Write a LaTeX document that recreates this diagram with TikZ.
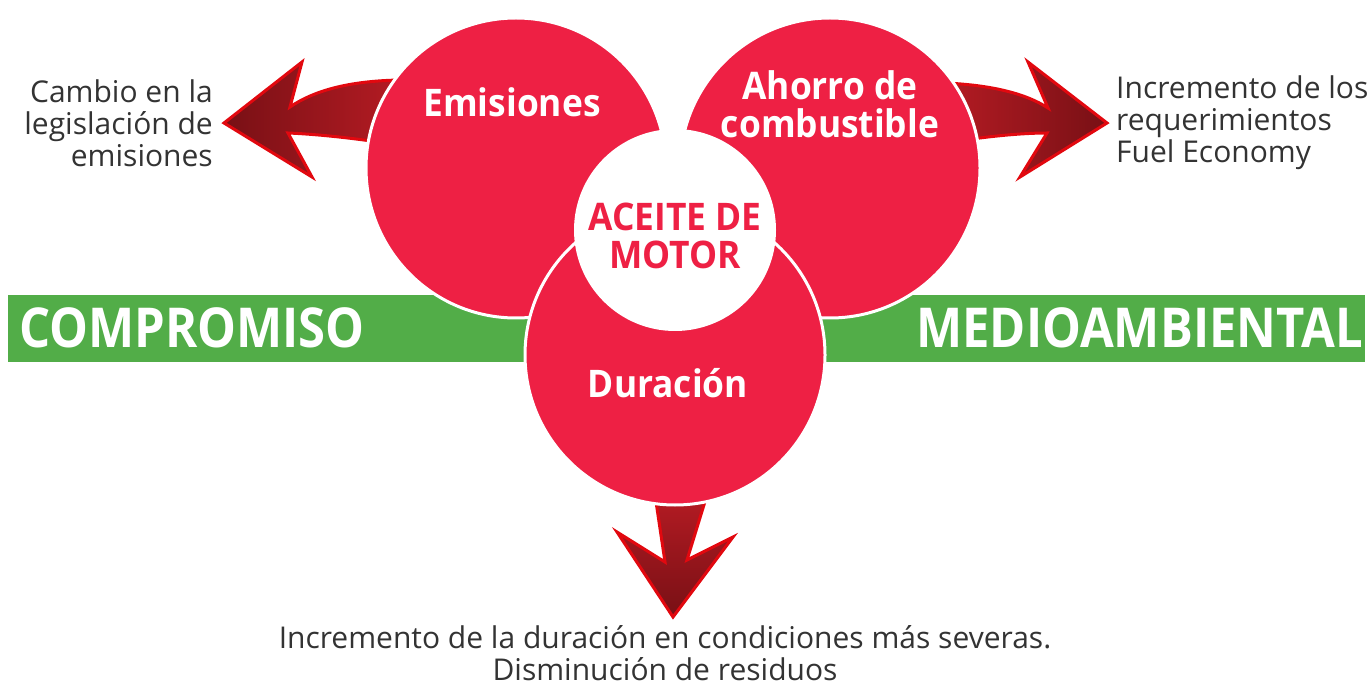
\documentclass[tikz,border=0pt]{standalone}
\usepackage{fontspec}
\setmainfont{Open Sans}
\newfontfamily\labelfont{Open Sans}[FakeStretch=0.93]
\newfontfamily\bandfont{Open Sans}[FakeStretch=0.89]

\definecolor{circlered}{HTML}{EE2044}
\definecolor{bandgreen}{HTML}{52AD48}
\definecolor{arrowdark}{HTML}{781015}
\definecolor{arrowmid}{HTML}{B41B23}
\definecolor{arrowedge}{HTML}{E2080F}
\definecolor{textgray}{HTML}{333333}

\begin{document}
\begin{tikzpicture}[x=1pt, y=-1pt,
    bubble/.style={fill=circlered, draw=white, line width=3pt},
    bigarrow/.style={draw=arrowedge, line width=3pt, line join=miter},
    sidetext/.style={inner sep=0pt, text=textgray, font=\fontsize{30}{32}\selectfont},
    bubbletext/.style={inner sep=0pt, text=white, align=center, font=\labelfont\bfseries\fontsize{38}{38}\selectfont},
    bandtext/.style={inner sep=0pt, text=white, font=\bandfont\bfseries\fontsize{55}{55}\selectfont}]
    \useasboundingbox (0,0) rectangle (1370,684);

    % Green band behind the circles
    \fill[bandgreen] (8,295) rectangle (1365,362);

    % Block arrows (their shafts go under the circles)
    \draw[bigarrow, left color=arrowdark, right color=arrowmid]
        (400,80) .. controls (345,81) and (312,92) .. (290,107) -- (302,62) -- (224,123)
        -- (312,177) -- (288,133) .. controls (312,134) and (345,137) .. (385,143) -- cycle;
    \draw[bigarrow, left color=arrowmid, right color=arrowdark]
        (945,83) .. controls (990,85) and (1025,93) .. (1048,108) -- (1028,62) -- (1107,123)
        -- (1020,177) -- (1047,133) .. controls (1028,133) and (1000,135) .. (965,140) -- cycle;
    \draw[bigarrow, top color=arrowmid, bottom color=arrowdark]
        (655,495) -- (707,495) -- (687,560) -- (733,537) -- (673,617)
        -- (617,532) -- (665,562) -- cycle;

    % Circles
    \draw[bubble] (516,168) circle (150);
    \draw[bubble] (830,168) circle (150);
    \draw[bubble] (675,355) circle (150);
    \fill[white] (675,230) circle (101);

    % Circle labels
    \node[bubbletext] (emis) at (512,102) {Emisiones};
    \node[bubbletext] (ahorro) at (830,104) {Ahorro de\\combustible};
    \node[bubbletext] (durac) at (668,383) {Duración};
    \node[bubbletext, text=circlered] (aceite) at (675,236) {ACEITE DE\\MOTOR};

    % Band labels
    \node[bandtext, anchor=west] (compr) at (19,328) {COMPROMISO};
    \node[bandtext, anchor=east] (medio) at (1363,328) {MEDIOAMBIENTAL};

    % Side notes
    \node[sidetext, anchor=east, align=right] (legis) at (213,123)
        {Cambio en la\\legislación de\\emisiones};
    \node[sidetext, anchor=west, align=left] (fuel) at (1116,123)
        {Incremento de los\\requerimientos\\Fuel Economy};
    \node[sidetext, align=center] (resid) at (665,653)
        {Incremento de la duración en condiciones más severas.\\Disminución de residuos};
\end{tikzpicture}
\end{document}
